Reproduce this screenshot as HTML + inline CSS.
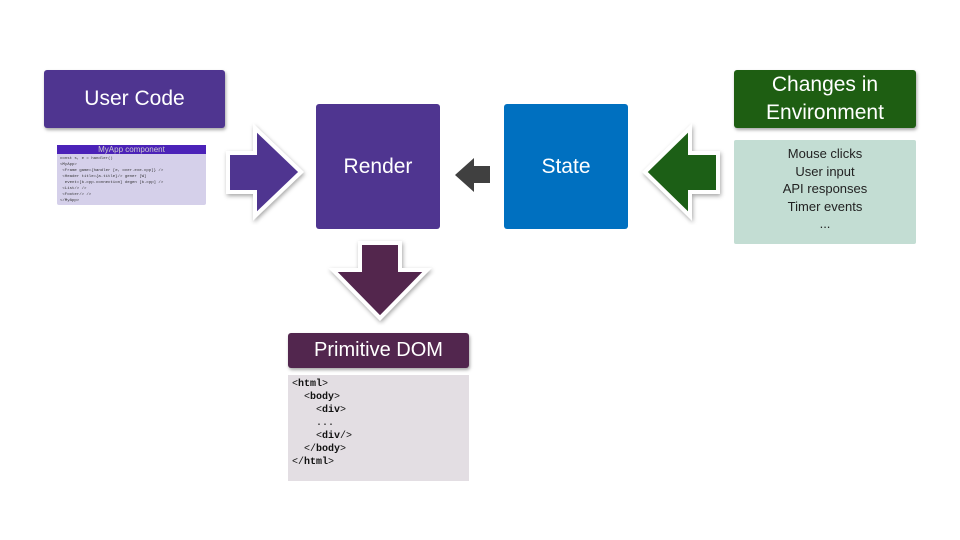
<!DOCTYPE html>
<html><head><meta charset="utf-8"><style>
body{margin:0;width:960px;height:540px;background:#fff;position:relative;overflow:hidden;font-family:"Liberation Sans","DejaVu Sans",sans-serif}
.b{position:absolute;color:#fff;display:flex;align-items:center;justify-content:center;text-align:center;border-radius:3px;box-shadow:1px 2px 3px rgba(0,0,0,.35)}
.c{position:absolute}
</style></head><body>
<div class="b" style="left:44px;top:70px;width:181px;height:58px;background:#4f3590;font-size:21px">User Code</div>
<div class="c" style="left:57px;top:145px;width:149px;height:60px;background:#d5d0ea;border-radius:2px;font-size:4px;color:#333;line-height:6px">
<div style="background:#4b22b8;color:#ccc;font-size:8px;height:9px;line-height:9px;text-align:center">MyApp component</div>
<div style="padding:2px 3px;font-family:'Liberation Mono',monospace">const s, e = handler()<br>&lt;MyApp&gt;<br>&nbsp;&lt;Frame game={handler [e, over.exe.cpp]} /&gt;<br>&nbsp;&lt;Header title={a.title}/&gt; gener [W]<br>&nbsp;&nbsp;event=[b.cpp.connection] degen [b.cpp] /&gt;<br>&nbsp;&lt;List/&gt; /&gt;<br>&nbsp;&lt;Footer/&gt; /&gt;<br>&lt;/MyApp&gt;</div></div>
<div class="b" style="left:316px;top:104px;width:124px;height:125px;background:#4f3590;font-size:21px;box-shadow:none">Render</div>
<div class="b" style="left:504px;top:104px;width:124px;height:125px;background:#0070c0;font-size:21px;box-shadow:none">State</div>
<div class="b" style="left:734px;top:70px;width:182px;height:58px;background:#1e5e12;font-size:21px;line-height:28px">Changes in<br>Environment</div>
<div class="c" style="left:734px;top:140px;width:182px;height:104px;background:#c3ddd3;font-size:13px;color:#222;text-align:center;line-height:17.5px;padding-top:5px;box-sizing:border-box;border-radius:2px">Mouse clicks<br>User input<br>API responses<br>Timer events<br>...</div>
<div class="b" style="left:288px;top:333px;width:181px;height:35px;background:#52264e;font-size:20px">Primitive DOM</div>
<div class="c" style="left:288px;top:375px;width:181px;height:106px;background:#e3dee3;font-family:'Liberation Mono',monospace;font-size:10px;line-height:13px;color:#111;padding:3px 0 0 4px;box-sizing:border-box;white-space:pre">&lt;<b>html</b>&gt;
  &lt;<b>body</b>&gt;
    &lt;<b>div</b>&gt;
    ...
    &lt;<b>div</b>/&gt;
  &lt;/<b>body</b>&gt;
&lt;/<b>html</b>&gt;</div>
<svg class="c" style="left:0;top:0" width="960" height="540">
<defs><filter id="s"><feDropShadow dx="1" dy="2" stdDeviation="2" flood-opacity="0.35"/></filter></defs>
<polygon points="228,153 255,153 255,128 301,172 255,216 255,192 228,192" fill="#4f3590" stroke="#fff" stroke-width="4" filter="url(#s)"/>
<polygon points="718,153 690,153 690,128 645,172 690,216 690,192 718,192" fill="#1e5e12" stroke="#fff" stroke-width="4" filter="url(#s)"/>
<polygon points="360,243 400,243 400,270 427,270 380,318 333,270 360,270" fill="#52264e" stroke="#fff" stroke-width="4" filter="url(#s)"/>
<polygon points="490,166 474,166 474,158 455,175 474,192 474,183 490,183" fill="#404040"/>
</svg>
</body></html>
